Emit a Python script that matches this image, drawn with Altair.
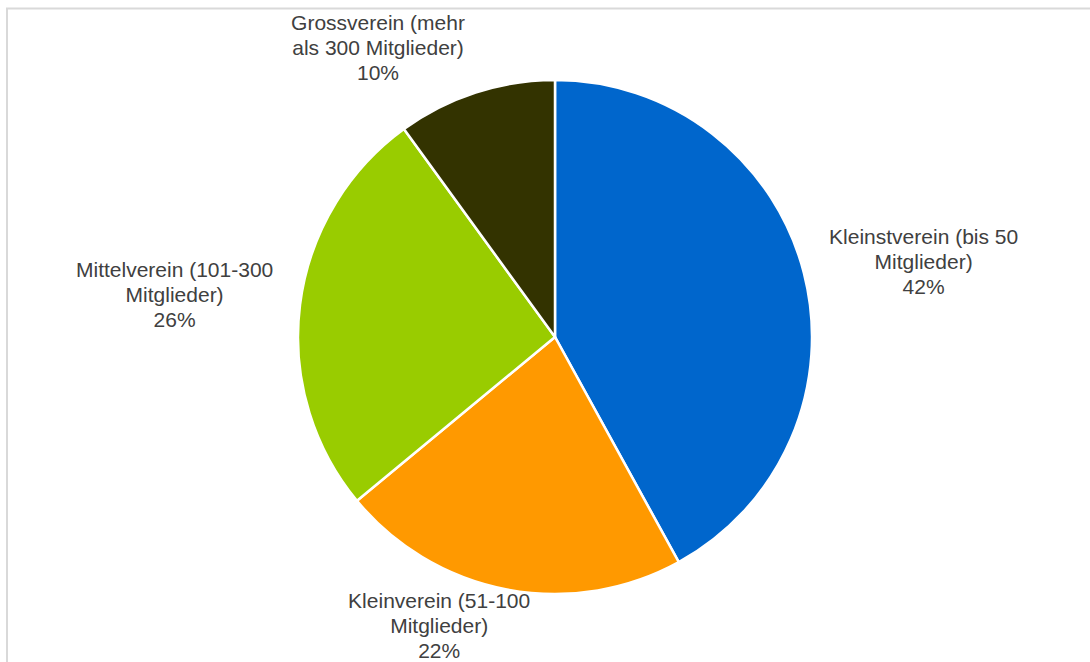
import altair as alt
import pandas as pd

categories = [
    "Kleinstverein (bis 50 Mitglieder)",
    "Kleinverein (51-100 Mitglieder)",
    "Mittelverein (101-300 Mitglieder)",
    "Grossverein (mehr als 300 Mitglieder)",
]
label_lines = [
    ["Kleinstverein (bis 50", "Mitglieder)"],
    ["Kleinverein (51-100", "Mitglieder)"],
    ["Mittelverein (101-300", "Mitglieder)"],
    ["Grossverein (mehr", "als 300 Mitglieder)"],
]
shares = [42, 22, 26, 10]
colors = ["#0066CC", "#FF9900", "#99CC00", "#333300"]

df = pd.DataFrame({
    "idx": list(range(len(categories))),
    "category": categories,
    "share": shares,
    "lines": [l + [f"{s}%"] for l, s in zip(label_lines, shares)],
})

CX, CY, R = 555, 337, 257
theta_scale = alt.Scale(domain=[0, 100])

pie = alt.Chart(df).mark_arc(radius=R, stroke="white", strokeWidth=2.5).encode(
    theta=alt.Theta("share:Q", stack=True, scale=theta_scale),
    color=alt.Color("category:N", scale=alt.Scale(domain=categories, range=colors), legend=None),
    order=alt.Order("idx:Q"),
    x=alt.value(CX),
    y=alt.value(CY),
)

base = alt.Chart(df).transform_window(
    cum="sum(share)", sort=[alt.SortField("idx")]
).transform_calculate(mid="datum.cum - datum.share / 2")

offsets = [(49, -17), (-54, -59), (-53, -25), (-75, 1)]
text_layers = []
for i, (ddx, ddy) in enumerate(offsets):
    text_layers.append(
        base.transform_filter(alt.datum.idx == i).mark_text(
            radius=330, dx=ddx, dy=ddy, font="Liberation Sans", fontSize=21,
            color="#404040", lineHeight=25, align="center", baseline="middle",
        ).encode(
            theta=alt.Theta("mid:Q", stack=None, scale=theta_scale),
            text="lines",
            x=alt.value(CX),
            y=alt.value(CY),
        )
    )

one = pd.DataFrame({"a": [0]})
left_border = alt.Chart(one).mark_rule(color="#d9d9d9", strokeWidth=2).encode(
    x=alt.value(7), y=alt.value(8), y2=alt.value(662)
)
top_border = alt.Chart(one).mark_rule(color="#d9d9d9", strokeWidth=2).encode(
    x=alt.value(6), x2=alt.value(1090), y=alt.value(8.5)
)

chart = alt.layer(left_border, top_border, pie, *text_layers).properties(
    width=1090, height=662, padding=0, autosize="none"
).configure_view(stroke=None)

chart.save("out.html", embed_options={"renderer": "svg", "actions": False})
